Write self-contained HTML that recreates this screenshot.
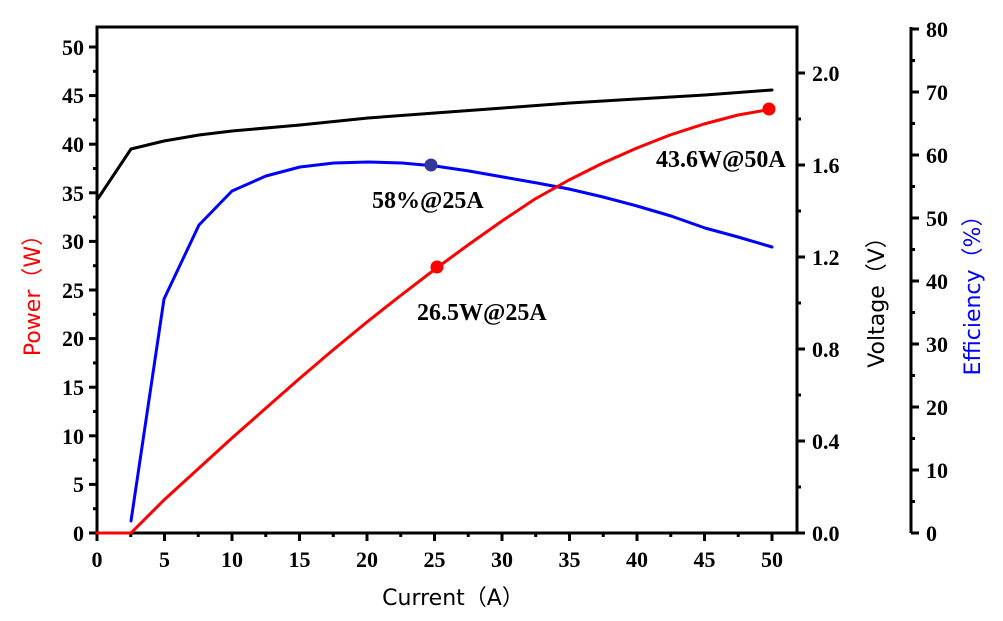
<!DOCTYPE html>
<html><head><meta charset="utf-8"><style>html,body{margin:0;padding:0;background:#fff}svg{display:block}
.t{font-family:"Liberation Serif","Times New Roman",serif;font-weight:bold;font-size:22px;fill:#000}
.a{font-family:"Liberation Serif","Times New Roman",serif;font-weight:bold;font-size:24px;fill:#000}
.l{font-family:"DejaVu Sans","Liberation Sans",sans-serif;font-size:22px}
</style></head>
<body>
<svg width="1003" height="621" viewBox="0 0 1003 621" xmlns="http://www.w3.org/2000/svg">
<g fill="none" stroke="#000" stroke-width="3">
<rect x="97" y="27" width="700" height="506"/>
<line x1="911" y1="27" x2="911" y2="533"/>
</g>
<g stroke="#000" stroke-width="3">
<line x1="89" y1="533" x2="97" y2="533"/><line x1="89" y1="484.4" x2="97" y2="484.4"/><line x1="89" y1="435.8" x2="97" y2="435.8"/><line x1="89" y1="387.2" x2="97" y2="387.2"/><line x1="89" y1="338.6" x2="97" y2="338.6"/><line x1="89" y1="290" x2="97" y2="290"/><line x1="89" y1="241.4" x2="97" y2="241.4"/><line x1="89" y1="192.8" x2="97" y2="192.8"/><line x1="89" y1="144.2" x2="97" y2="144.2"/><line x1="89" y1="95.6" x2="97" y2="95.6"/><line x1="89" y1="47" x2="97" y2="47"/>
<line x1="93" y1="508.7" x2="97" y2="508.7"/><line x1="93" y1="460.1" x2="97" y2="460.1"/><line x1="93" y1="411.5" x2="97" y2="411.5"/><line x1="93" y1="362.9" x2="97" y2="362.9"/><line x1="93" y1="314.3" x2="97" y2="314.3"/><line x1="93" y1="265.7" x2="97" y2="265.7"/><line x1="93" y1="217.1" x2="97" y2="217.1"/><line x1="93" y1="168.5" x2="97" y2="168.5"/><line x1="93" y1="119.9" x2="97" y2="119.9"/><line x1="93" y1="71.3" x2="97" y2="71.3"/>
<line x1="97" y1="533" x2="97" y2="541"/><line x1="164.5" y1="533" x2="164.5" y2="541"/><line x1="232" y1="533" x2="232" y2="541"/><line x1="299.5" y1="533" x2="299.5" y2="541"/><line x1="367" y1="533" x2="367" y2="541"/><line x1="434.5" y1="533" x2="434.5" y2="541"/><line x1="502" y1="533" x2="502" y2="541"/><line x1="569.5" y1="533" x2="569.5" y2="541"/><line x1="637" y1="533" x2="637" y2="541"/><line x1="704.5" y1="533" x2="704.5" y2="541"/><line x1="772" y1="533" x2="772" y2="541"/>
<line x1="130.75" y1="533" x2="130.75" y2="537"/><line x1="198.25" y1="533" x2="198.25" y2="537"/><line x1="265.75" y1="533" x2="265.75" y2="537"/><line x1="333.25" y1="533" x2="333.25" y2="537"/><line x1="400.75" y1="533" x2="400.75" y2="537"/><line x1="468.25" y1="533" x2="468.25" y2="537"/><line x1="535.75" y1="533" x2="535.75" y2="537"/><line x1="603.25" y1="533" x2="603.25" y2="537"/><line x1="670.75" y1="533" x2="670.75" y2="537"/><line x1="738.25" y1="533" x2="738.25" y2="537"/>
<line x1="797" y1="533" x2="805" y2="533"/><line x1="797" y1="441" x2="805" y2="441"/><line x1="797" y1="349" x2="805" y2="349"/><line x1="797" y1="257" x2="805" y2="257"/><line x1="797" y1="165" x2="805" y2="165"/><line x1="797" y1="73" x2="805" y2="73"/>
<line x1="797" y1="487" x2="801" y2="487"/><line x1="797" y1="395" x2="801" y2="395"/><line x1="797" y1="303" x2="801" y2="303"/><line x1="797" y1="211" x2="801" y2="211"/><line x1="797" y1="119" x2="801" y2="119"/>
<line x1="911" y1="533" x2="919" y2="533"/><line x1="911" y1="470" x2="919" y2="470"/><line x1="911" y1="407" x2="919" y2="407"/><line x1="911" y1="344" x2="919" y2="344"/><line x1="911" y1="281" x2="919" y2="281"/><line x1="911" y1="218" x2="919" y2="218"/><line x1="911" y1="155" x2="919" y2="155"/><line x1="911" y1="92" x2="919" y2="92"/><line x1="911" y1="29" x2="919" y2="29"/>
<line x1="911" y1="501.5" x2="915" y2="501.5"/><line x1="911" y1="438.5" x2="915" y2="438.5"/><line x1="911" y1="375.5" x2="915" y2="375.5"/><line x1="911" y1="312.5" x2="915" y2="312.5"/><line x1="911" y1="249.5" x2="915" y2="249.5"/><line x1="911" y1="186.5" x2="915" y2="186.5"/><line x1="911" y1="123.5" x2="915" y2="123.5"/><line x1="911" y1="60.5" x2="915" y2="60.5"/>
</g>
<g text-anchor="end">
<text class="t" x="84" y="541">0</text><text class="t" x="84" y="492">5</text><text class="t" x="84" y="444">10</text><text class="t" x="84" y="395">15</text><text class="t" x="84" y="346">20</text><text class="t" x="84" y="298">25</text><text class="t" x="84" y="249">30</text><text class="t" x="84" y="201">35</text><text class="t" x="84" y="152">40</text><text class="t" x="84" y="103">45</text><text class="t" x="84" y="55">50</text>
</g>
<g text-anchor="middle">
<text class="t" x="97" y="567">0</text><text class="t" x="164.5" y="567">5</text><text class="t" x="232" y="567">10</text><text class="t" x="299.5" y="567">15</text><text class="t" x="367" y="567">20</text><text class="t" x="434.5" y="567">25</text><text class="t" x="502" y="567">30</text><text class="t" x="569.5" y="567">35</text><text class="t" x="637" y="567">40</text><text class="t" x="704.5" y="567">45</text><text class="t" x="772" y="567">50</text>
</g>
<text class="t" x="812" y="541">0.0</text><text class="t" x="812" y="449">0.4</text><text class="t" x="812" y="357">0.8</text><text class="t" x="812" y="265">1.2</text><text class="t" x="812" y="173">1.6</text><text class="t" x="812" y="81">2.0</text>
<text class="t" x="926" y="541">0</text><text class="t" x="926" y="478">10</text><text class="t" x="926" y="415">20</text><text class="t" x="926" y="352">30</text><text class="t" x="926" y="289">40</text><text class="t" x="926" y="226">50</text><text class="t" x="926" y="163">60</text><text class="t" x="926" y="100">70</text><text class="t" x="926" y="37">80</text>
<text class="a" x="656" y="167">43.6W@50A</text>
<text class="a" x="372" y="208">58%@25A</text>
<text class="a" x="417" y="320">26.5W@25A</text>
<g text-anchor="middle">
<text class="l" x="453" y="605" fill="#000">Current（A）</text>
<text class="l" transform="translate(40,290) rotate(-90)" fill="#f00">Power（W）</text>
<text class="l" transform="translate(884,297) rotate(-90)" fill="#000">Voltage（V）</text>
<text class="l" transform="translate(980,290) rotate(-90)" fill="#00f">Efficiency（%）</text>
</g>
<g fill="none" stroke-width="3" stroke-linejoin="round" stroke-linecap="round">
<polyline stroke="#000" points="97,200 131,149 164,141 199,135 232,131 300,125 368,118 435,113 503,108 570,103 637,99 705,95 772,90"/>
<polyline stroke="#00f" points="131,521 164,299 199,225 232,191 266,176 300,167 334,163 368,162 402,163 435,166 469,171 503,177 537,183 569,189 603,197 637,206 671,216 705,228 738,237 772,247"/>
<polyline stroke="#f00" points="97,533 131,533 164,500 198,469 232,438 266,408 299,379 333,350 367,322 400,296 434,270 468,245 502,221 535,199 569,180 603,163 637,148 670,135 704,124 738,115 772,109"/>
</g>
<circle cx="437" cy="267" r="6.5" fill="#f00"/>
<circle cx="769" cy="109" r="6.5" fill="#f00"/>
<circle cx="431" cy="165" r="6.5" fill="#33399a"/>
</svg>
</body></html>
